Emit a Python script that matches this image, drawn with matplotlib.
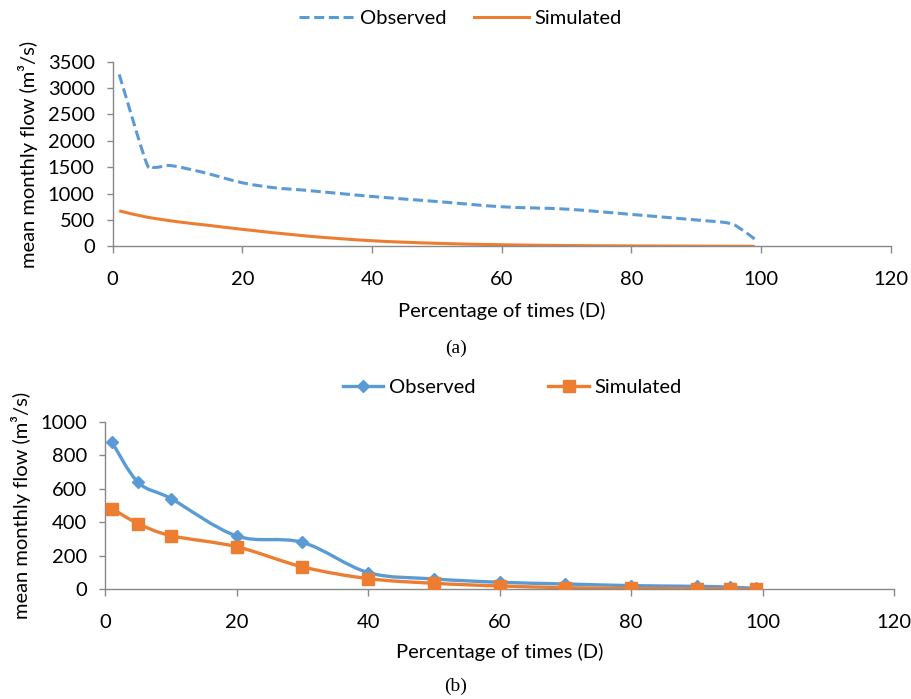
import numpy as np
import matplotlib
matplotlib.use('Agg')
import matplotlib.pyplot as plt
from matplotlib.path import Path
from matplotlib.patches import PathPatch
from matplotlib.lines import Line2D

plt.rcParams['font.family'] = ['Lato', 'DejaVu Sans']

BLUE = '#5B9BD5'
ORANGE = '#ED7D31'
GRAY = '#898989'
FS = 14.5

# (a) flow duration curves
a_obs_x = [1, 5, 6, 7, 9, 14, 20, 25, 30, 40, 50, 60, 70, 80, 90, 95, 97, 99]
a_obs_y = [3260, 1650, 1510, 1500, 1530, 1400, 1205, 1110, 1060, 945, 850, 750, 705, 605, 500, 440, 320, 140]
a_sim_x = [1, 5, 10, 15, 20, 30, 40, 50, 60, 70, 80, 90, 99]
a_sim_y = [674, 560, 466, 395, 322, 195, 106, 57, 30, 15, 8, 4, 1]

# (b)
b_x = [1, 5, 10, 20, 30, 40, 50, 60, 70, 80, 90, 95, 99]
b_obs = [878, 638, 541, 318, 280, 100, 62, 42, 32, 22, 18, 13, 6]
b_sim = [482, 392, 320, 254, 134, 64, 36, 20, 10, 5, 3, 2, 1]

x_ticks = [0, 20, 40, 60, 80, 100, 120]


def smooth_path(x, y):
    # Excel style smoothed line: cubic bezier through the points
    p = np.column_stack([x, y]).astype(float)
    n = len(p)
    verts = [p[0]]
    codes = [Path.MOVETO]
    for i in range(n - 1):
        p0 = p[i - 1] if i > 0 else p[i]
        p3 = p[i + 2] if i + 2 < n else p[i + 1]
        c1 = p[i] + (p[i + 1] - p0) / 6
        c2 = p[i + 1] - (p3 - p[i]) / 6
        verts += [c1, c2, p[i + 1]]
        codes += [Path.CURVE4] * 3
    return Path(verts, codes)


def style_axis(ax, ymax, ystep, xpad):
    ax.set_xlim(0, 120)
    ax.set_ylim(0, ymax)
    ax.set_xticks(x_ticks)
    ax.set_yticks(np.arange(0, ymax + 1, ystep))
    for s in ['top', 'right']:
        ax.spines[s].set_visible(False)
    for s in ['left', 'bottom']:
        ax.spines[s].set_color(GRAY)
        ax.spines[s].set_linewidth(1.0)
    ax.tick_params(axis='x', direction='out', length=5, width=1, color=GRAY, pad=13, labelsize=FS)
    ax.tick_params(axis='y', direction='out', length=4, width=1, color=GRAY, pad=9, labelsize=FS)
    ax.set_xlabel('Percentage of times (D)', fontsize=FS, labelpad=xpad)
    ax.set_ylabel('mean monthly flow (m\u00b3/s)', fontsize=FS, labelpad=7)


fig = plt.figure(figsize=(9.12, 6.99), dpi=100)

# panel (a)
ax1 = fig.add_axes([0.1236, 0.6476, 0.853, 0.2641])
ax1.add_patch(PathPatch(smooth_path(a_obs_x, a_obs_y), fill=False, edgecolor=BLUE,
                        lw=2.2, linestyle=(0, (3.3, 1.5)), capstyle='butt'))
ax1.add_patch(PathPatch(smooth_path(a_sim_x, a_sim_y), fill=False, edgecolor=ORANGE, lw=2.2))
style_axis(ax1, 3500, 500, 10)
h1 = [Line2D([], [], color=BLUE, lw=2.2, linestyle=(0, (3.3, 1.5))),
      Line2D([], [], color=ORANGE, lw=2.2)]
fig.legend(h1, ['Observed', 'Simulated'], loc='center', bbox_to_anchor=(0.505, 0.974),
           ncol=2, frameon=False, fontsize=FS, handlelength=2.7, columnspacing=1.4,
           handletextpad=0.3)
fig.text(0.5, 1 - 348 / 699, '(a)', ha='center', va='center', fontsize=14,
         family=['Liberation Serif', 'DejaVu Serif'])

# panel (b)
ax2 = fig.add_axes([0.1155, 0.1569, 0.8647, 0.2398])
ax2.add_patch(PathPatch(smooth_path(b_x, b_obs), fill=False, edgecolor=BLUE, lw=2.4))
ax2.add_patch(PathPatch(smooth_path(b_x, b_sim), fill=False, edgecolor=ORANGE, lw=2.4))
ax2.plot(b_x, b_obs, linestyle='none', marker='D', ms=6.5, color=BLUE, zorder=3)
ax2.plot(b_x, b_sim, linestyle='none', marker='s', ms=8, color=ORANGE, zorder=4)
style_axis(ax2, 1000, 200, 8)
h2 = [Line2D([], [], color=BLUE, lw=2.4, marker='D', ms=6.5),
      Line2D([], [], color=ORANGE, lw=2.4, marker='s', ms=8)]
fig.legend(h2, ['Observed', 'Simulated'], loc='center', bbox_to_anchor=(0.562, 0.445),
           ncol=2, frameon=False, fontsize=FS, handlelength=2.0, columnspacing=3.6,
           handletextpad=0.3)
fig.text(0.5, 1 - 686 / 699, '(b)', ha='center', va='center', fontsize=14,
         family=['Liberation Serif', 'DejaVu Serif'])

fig.savefig('out.png', dpi=100, facecolor='white')
